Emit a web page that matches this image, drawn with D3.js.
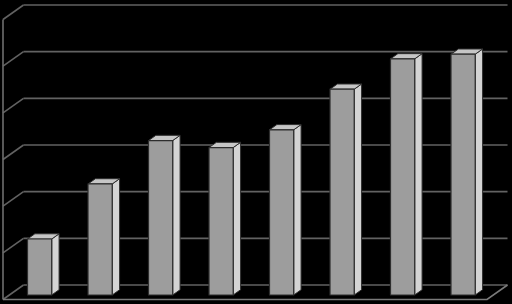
<!DOCTYPE html>
<html lang="en">
<head>
<meta charset="UTF-8">
<title>3D Column Chart</title>
<script src="https://d3js.org/d3.v7.min.js"></script>
<style>
body { margin: 0; background: #000; }
svg { display: block; }
</style>
</head>
<body>
<div id="chart"></div>
<script>
const categories = ['1', '2', '3', '4', '5', '6', '7', '8']
const values = [12, 23.8, 33.1, 31.6, 35.4, 44.1, 50.6, 51.6]
const ticks = [0, 10, 20, 30, 40, 50, 60]

const width = 512
const height = 304

// depth offset of the back wall relative to front plane
const depthX = 20.5
const depthY = 14.5
// bar depth range (0 = front, 1 = back wall)
const z0 = 0.31
const z1 = 0.67

const svg = d3.select('#chart')
    .append('svg')
    .attr('width', width)
    .attr('height', height)

svg.append('rect')
    .attr('width', width)
    .attr('height', height)
    .attr('fill', '#000')

const x = d3.scaleBand()
    .domain(categories)
    .range([3, 487])
    .paddingInner(0.6)
    .paddingOuter(0.3)

const y = d3.scaleLinear()
    .domain([0, 60])
    .range([299.5, 19.5])

function proj(px, py, z) {
    return [px + depthX * z, py - depthY * z]
}

const line = d3.line()

// back wall gridlines
const grid = svg.append('g')
grid.selectAll('.hgrid')
    .data(ticks)
    .enter()
    .append('path')
    .attr('d', d => line([proj(3, y(d), 1), proj(487, y(d), 1)]))
    .attr('stroke', '#626262')
    .attr('stroke-width', 1.6)
    .attr('fill', 'none')

// side wall diagonals
grid.selectAll('.dgrid')
    .data(ticks)
    .enter()
    .append('path')
    .attr('d', d => line([proj(3, y(d), 0), proj(3, y(d), 1)]))
    .attr('stroke', '#626262')
    .attr('stroke-width', 1.6)
    .attr('fill', 'none')

// front vertical axis
grid.append('path')
    .attr('d', line([[3, y(60)], [3, y(0)]]))
    .attr('stroke', '#6e6e6e')
    .attr('stroke-width', 1.6)
    .attr('fill', 'none')

// floor front edge
grid.append('path')
    .attr('d', line([[3, y(0)], [487, y(0)], proj(487, y(0), 1)]))
    .attr('stroke', '#7a7a7a')
    .attr('stroke-width', 1.6)
    .attr('fill', 'none')

// bars
const bars = svg.append('g')
    .selectAll('g')
    .data(categories.map((c, i) => ({ cat: c, value: values[i] })))
    .enter()
    .append('g')

function face(d, which) {
    const xl = x(d.cat)
    const xr = xl + x.bandwidth()
    const yb = y(0)
    const yt = y(d.value)
    if (which === 'front') {
        return line([proj(xl, yb, z0), proj(xr, yb, z0), proj(xr, yt, z0), proj(xl, yt, z0)]) + 'Z'
    }
    if (which === 'side') {
        return line([proj(xr, yb, z0), proj(xr, yb, z1), proj(xr, yt, z1), proj(xr, yt, z0)]) + 'Z'
    }
    return line([proj(xl, yt, z0), proj(xr, yt, z0), proj(xr, yt, z1), proj(xl, yt, z1)]) + 'Z'
}

bars.append('path')
    .attr('d', d => face(d, 'side'))
    .attr('fill', '#d4d4d4')
    .attr('stroke', '#2e2e2e')
    .attr('stroke-width', 1)
    .attr('stroke-linejoin', 'round')

bars.append('path')
    .attr('d', d => face(d, 'top'))
    .attr('fill', '#c6c6c6')
    .attr('stroke', '#2e2e2e')
    .attr('stroke-width', 1)
    .attr('stroke-linejoin', 'round')

bars.append('path')
    .attr('d', d => face(d, 'front'))
    .attr('fill', '#9d9d9d')
    .attr('stroke', '#2e2e2e')
    .attr('stroke-width', 1.2)
    .attr('stroke-linejoin', 'round')
</script>
</body>
</html>
